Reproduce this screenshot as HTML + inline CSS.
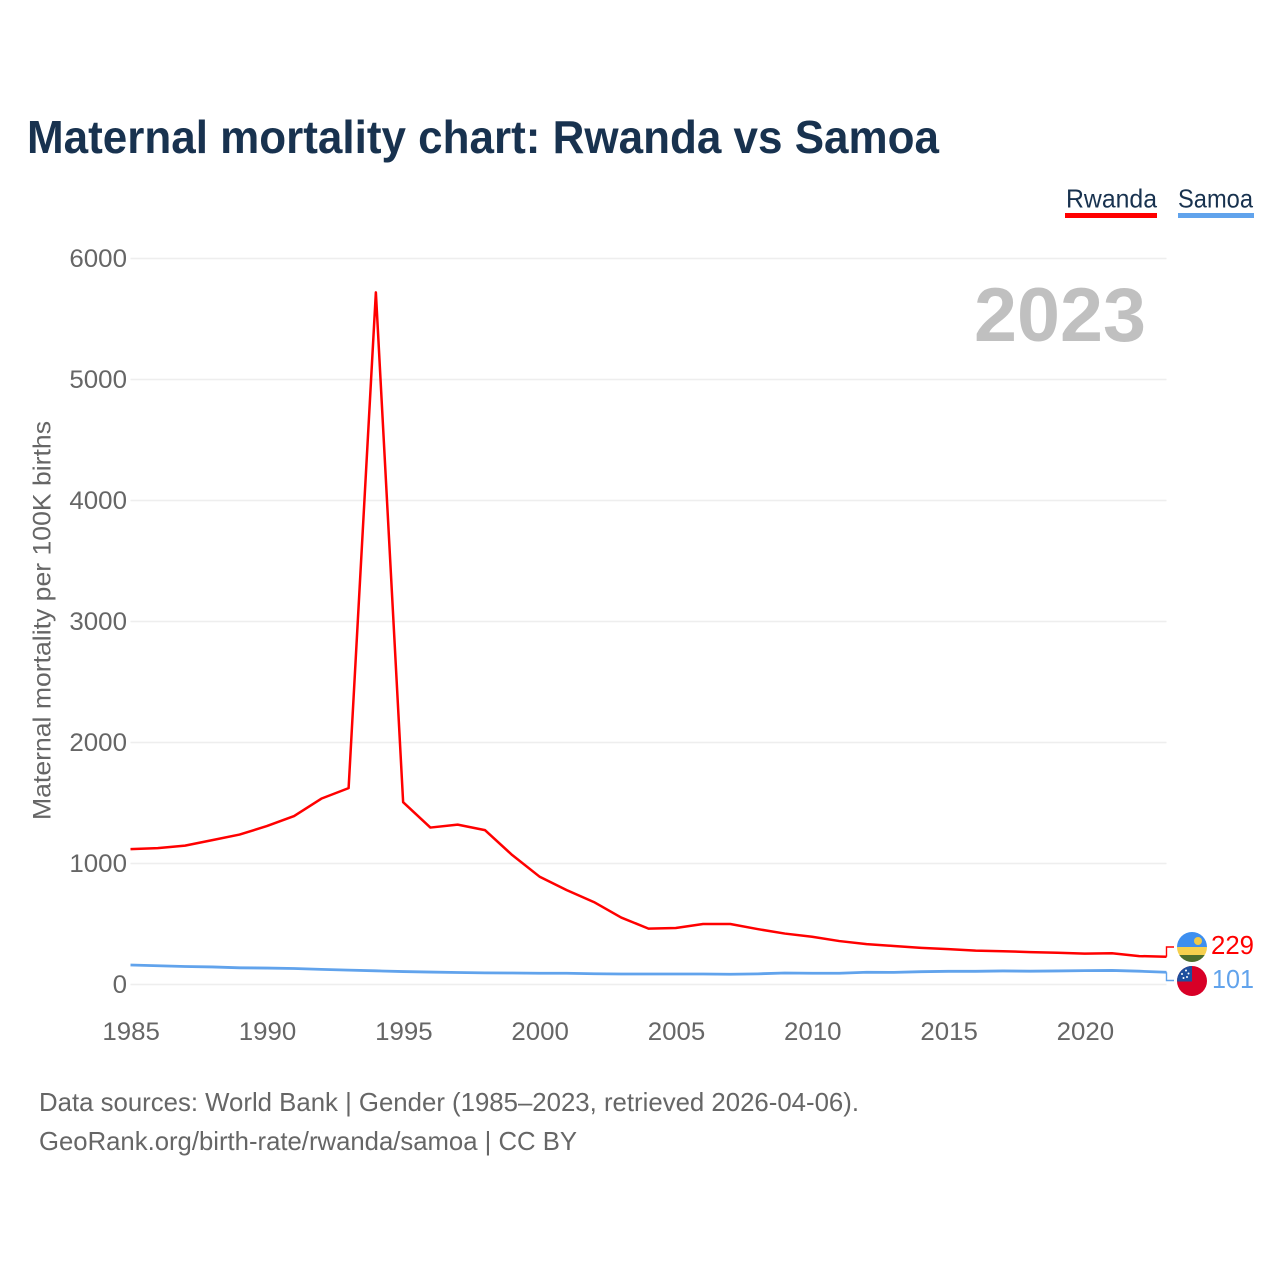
<!DOCTYPE html>
<html lang="en">
<head>
<meta charset="utf-8">
<title>Maternal mortality chart: Rwanda vs Samoa</title>
<style>
html,body{margin:0;padding:0;background:#fff;}
svg{display:block;}
text{font-family:"Liberation Sans",sans-serif;}
</style>
</head>
<body>
<svg id="chart" width="1280" height="1280" viewBox="0 0 1280 1280" xmlns="http://www.w3.org/2000/svg">
  <rect x="0" y="0" width="1280" height="1280" fill="#ffffff"/>
  <text x="27" y="153" font-size="46" font-weight="700" fill="#18324f" textLength="912" lengthAdjust="spacingAndGlyphs">Maternal mortality chart: Rwanda vs Samoa</text>

  <g>
    <g>
      <text x="1066" y="207.5" font-size="26" fill="#18324f" textLength="91" lengthAdjust="spacingAndGlyphs">Rwanda</text>
      <rect x="1065" y="213" width="92" height="5" fill="#ff0000"/>
    </g>
    <g>
      <text x="1178" y="207.5" font-size="26" fill="#18324f" textLength="75" lengthAdjust="spacingAndGlyphs">Samoa</text>
      <rect x="1178" y="213" width="76" height="5" fill="#61a3ec"/>
    </g>
  </g>

  <g id="grid"></g>
  <g id="yticks"></g>
  <g id="xticks"></g>

  <text x="1146" y="341" text-anchor="end" font-size="76" font-weight="700" fill="#c0c0c0" textLength="172" lengthAdjust="spacingAndGlyphs">2023</text>

  <text transform="translate(50.5,820) rotate(-90)" font-size="25" fill="#666666" textLength="399" lengthAdjust="spacingAndGlyphs">Maternal mortality per 100K births</text>

  <g id="series"></g>

  <g>
    <clipPath id="clipRw"><circle cx="1192" cy="947" r="15"/></clipPath>
    <g clip-path="url(#clipRw)">
      <rect x="1177" y="932" width="30" height="15.5" fill="#3d8ff0"/>
      <rect x="1177" y="947" width="30" height="8" fill="#f5d04e"/>
      <rect x="1177" y="955" width="30" height="7" fill="#4c6e2c"/>
      <circle cx="1198" cy="941" r="4" fill="#f0c948"/>
    </g>
  </g>
  <g>
    <clipPath id="clipWs"><circle cx="1192" cy="981" r="15"/></clipPath>
    <g clip-path="url(#clipWs)">
      <rect x="1177" y="966" width="30" height="30" fill="#d80027"/>
      <rect x="1177" y="966" width="15" height="15.5" fill="#1d4f9e"/>
      <circle cx="1186" cy="970.5" r="1" fill="#fff"/>
      <circle cx="1182" cy="974" r="1" fill="#fff"/>
      <circle cx="1188.5" cy="973.5" r="1" fill="#fff"/>
      <circle cx="1187" cy="977" r="1" fill="#fff"/>
      <circle cx="1183.5" cy="978" r="1" fill="#fff"/>
    </g>
  </g>

  <text id="value-rwanda" x="1254" y="954" text-anchor="end" font-size="26" fill="#ff0000" textLength="43" lengthAdjust="spacingAndGlyphs">229</text>
  <text id="value-samoa" x="1254" y="988" text-anchor="end" font-size="26" fill="#61a3ec" textLength="42" lengthAdjust="spacingAndGlyphs">101</text>

  <text x="39" y="1111" font-size="26" fill="#666666" textLength="820" lengthAdjust="spacingAndGlyphs">Data sources: World Bank | Gender (1985–2023, retrieved 2026-04-06).</text>
  <text x="39" y="1150" font-size="26" fill="#666666" textLength="538" lengthAdjust="spacingAndGlyphs">GeoRank.org/birth-rate/rwanda/samoa | CC BY</text>
</svg>
<script>
const years = [1985,1986,1987,1988,1989,1990,1991,1992,1993,1994,1995,1996,1997,1998,1999,2000,2001,2002,2003,2004,2005,2006,2007,2008,2009,2010,2011,2012,2013,2014,2015,2016,2017,2018,2019,2020,2021,2022,2023];
const rwandaValues = [1119,1127,1148,1193,1239,1309,1392,1536,1623,5720,1507,1297,1321,1276,1070,892,780,681,553,462,467,500,500,458,421,395,359,334,318,303,292,280,275,268,262,255,258,235,229];
const samoaValues = [161,155,149,145,138,136,132,125,119,113,107,103,99,96,95,93,93,89,87,87,87,87,85,88,95,93,93,101,100,106,109,109,112,110,112,115,116,110,101];
const yTickValues = [0,1000,2000,3000,4000,5000,6000];
const xTickValues = [1985,1990,1995,2000,2005,2010,2015,2020];

const NS = 'http://www.w3.org/2000/svg';
function xScale(year){ return 130.5 + (year - 1985) * (1166.5 - 130.5) / (2023 - 1985); }
function yScale(v){ return 984.5 - v * (984.5 - 258.5) / 6000; }

const grid = document.getElementById('grid');
const yticks = document.getElementById('yticks');
const xticks = document.getElementById('xticks');
const series = document.getElementById('series');

yTickValues.forEach(function(v){
  const line = document.createElementNS(NS,'line');
  
  
  line.setAttribute('x1', xScale(1985));
  line.setAttribute('x2', xScale(2023));
  line.setAttribute('y1', yScale(v));
  line.setAttribute('y2', yScale(v));
  line.setAttribute('stroke', '#eeeeee');
  line.setAttribute('stroke-width', '1.6');
  grid.appendChild(line);

  const t = document.createElementNS(NS,'text');
  
  
  t.setAttribute('x', 127);
  t.setAttribute('y', yScale(v) + 8.5);
  t.setAttribute('text-anchor', 'end');
  t.setAttribute('font-size', '25');
  t.setAttribute('fill', '#666666');
  t.setAttribute('textLength', String(v).length * 14.4);
  t.setAttribute('lengthAdjust', 'spacingAndGlyphs');
  t.textContent = v;
  yticks.appendChild(t);
});

xTickValues.forEach(function(y){
  const t = document.createElementNS(NS,'text');
  
  
  t.setAttribute('x', xScale(y) + 0.7);
  t.setAttribute('y', 1040);
  t.setAttribute('text-anchor', 'middle');
  t.setAttribute('font-size', '25');
  t.setAttribute('fill', '#666666');
  t.setAttribute('textLength', 57.5);
  t.setAttribute('lengthAdjust', 'spacingAndGlyphs');
  t.textContent = y;
  xticks.appendChild(t);
});

function drawLine(values, color, name, connectY, width){
  const pts = years.map(function(y,i){ return xScale(y).toFixed(2) + ',' + yScale(values[i]).toFixed(2); });
  const p = document.createElementNS(NS,'polyline');
  
  
  p.setAttribute('points', pts.join(' '));
  p.setAttribute('fill', 'none');
  p.setAttribute('stroke', color);
  p.setAttribute('stroke-width', width);
  p.setAttribute('stroke-linejoin', 'round');
  series.appendChild(p);

  const last = values[values.length - 1];
  const xEnd = xScale(2023);
  const c = document.createElementNS(NS,'polyline');
  
  
  c.setAttribute('points', xEnd + ',' + yScale(last).toFixed(2) + ' ' + xEnd + ',' + connectY + ' 1174,' + connectY);
  c.setAttribute('fill', 'none');
  c.setAttribute('stroke', color);
  c.setAttribute('stroke-width', '1.4');
  series.appendChild(c);
}
drawLine(samoaValues, '#61a3ec', 'samoa-line', 980.5, '2.8');
drawLine(rwandaValues, '#ff0000', 'rwanda-line', 947, '2.5');

document.getElementById('value-rwanda').textContent = rwandaValues[rwandaValues.length - 1];
document.getElementById('value-samoa').textContent = samoaValues[samoaValues.length - 1];
</script>
</body>
</html>
